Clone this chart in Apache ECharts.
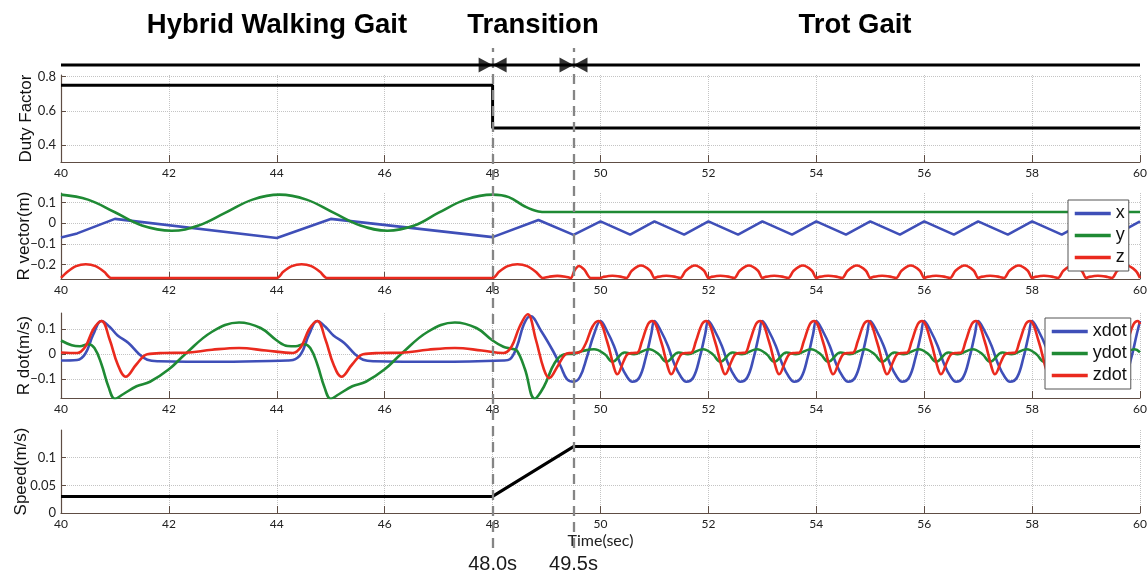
<!DOCTYPE html>
<html>
<head>
<meta charset="utf-8">
<script src="https://cdn.jsdelivr.net/npm/echarts@6/dist/echarts.min.js"></script>
<style>
html, body { margin: 0; padding: 0; background: #fff; }
#chart { width: 1147px; height: 576px; }
</style>
</head>
<body>
<div id="chart"></div>
<script>
// 数据
const phaseTitles = ['Hybrid Walking Gait', 'Transition', 'Trot Gait'];
const transitionTimes = [48, 49.5];
const transitionLabels = ['48.0s', '49.5s'];
const guideLevel = 0.966;

const dutyTicks = [0.4, 0.6, 0.8];
const rVecTicks = [-0.2, -0.1, 0, 0.1];
const rDotTicks = [-0.1, 0, 0.1];
const speedTicks = [0, 0.05, 0.1];

const dutyFactor = [[40, 0.75], [48, 0.75], [48, 0.5], [60, 0.5]];
const speed = [[40, 0.03], [48, 0.03], [49.5, 0.12], [60, 0.12]];

const rVecX = [[40, -0.07], [40.3, -0.05], [40.65, -0.015], [41, 0.02], [44, -0.072], [45, 0.02], [48, -0.068],
    [48.85, 0.015], [49.5, -0.057],
    [50, 0.008], [50.55, -0.056], [51, 0.008], [51.55, -0.056], [52, 0.008], [52.55, -0.056],
    [53, 0.008], [53.55, -0.056], [54, 0.008], [54.55, -0.056], [55, 0.008], [55.55, -0.056],
    [56, 0.008], [56.55, -0.056], [57, 0.008], [57.55, -0.056], [58, 0.008], [58.55, -0.056],
    [59, 0.008], [59.55, -0.056], [60, 0.008]];

const rVecY = [[40, 0.137], [40.5, 0.113], [41, 0.052], [41.5, -0.012], [42.05, -0.037], [42.55, -0.012],
    [43.05, 0.05], [43.55, 0.113], [44.05, 0.137], [44.55, 0.113], [45.05, 0.05], [45.55, -0.012],
    [46.05, -0.037], [46.55, -0.012], [47.0, 0.05], [47.5, 0.113], [48.0, 0.137], [48.3, 0.125],
    [48.6, 0.08], [48.85, 0.056], [49.0, 0.053], [49.3, 0.053], [60, 0.053]];

const rVecZ = [[40, -0.265], [40.12, -0.235], [40.28, -0.208], [40.46, -0.199], [40.64, -0.208], [40.8, -0.235], [40.93, -0.265],
    [44, -0.265], [44.12, -0.235], [44.28, -0.208], [44.46, -0.199], [44.64, -0.208], [44.8, -0.235], [44.93, -0.265],
    [48, -0.265], [48.12, -0.235], [48.28, -0.208], [48.46, -0.199], [48.64, -0.208], [48.8, -0.235], [48.93, -0.265],
    [49.05, -0.259], [49.2, -0.255], [49.35, -0.259], [49.45, -0.265], [49.52, -0.228], [49.6, -0.207], [49.7, -0.225], [49.82, -0.265],
    [50, -0.265], [50.05, -0.26], [50.22, -0.254], [50.4, -0.26], [50.48, -0.265], [50.58, -0.23], [50.75, -0.205], [50.92, -0.23],
    [51, -0.265], [51.05, -0.26], [51.22, -0.254], [51.4, -0.26], [51.48, -0.265], [51.58, -0.23], [51.75, -0.205], [51.92, -0.23],
    [52, -0.265], [52.05, -0.26], [52.22, -0.254], [52.4, -0.26], [52.48, -0.265], [52.58, -0.23], [52.75, -0.205], [52.92, -0.23],
    [53, -0.265], [53.05, -0.26], [53.22, -0.254], [53.4, -0.26], [53.48, -0.265], [53.58, -0.23], [53.75, -0.205], [53.92, -0.23],
    [54, -0.265], [54.05, -0.26], [54.22, -0.254], [54.4, -0.26], [54.48, -0.265], [54.58, -0.23], [54.75, -0.205], [54.92, -0.23],
    [55, -0.265], [55.05, -0.26], [55.22, -0.254], [55.4, -0.26], [55.48, -0.265], [55.58, -0.23], [55.75, -0.205], [55.92, -0.23],
    [56, -0.265], [56.05, -0.26], [56.22, -0.254], [56.4, -0.26], [56.48, -0.265], [56.58, -0.23], [56.75, -0.205], [56.92, -0.23],
    [57, -0.265], [57.05, -0.26], [57.22, -0.254], [57.4, -0.26], [57.48, -0.265], [57.58, -0.23], [57.75, -0.205], [57.92, -0.23],
    [58, -0.265], [58.05, -0.26], [58.22, -0.254], [58.4, -0.26], [58.48, -0.265], [58.58, -0.23], [58.75, -0.205], [58.92, -0.23],
    [59, -0.265], [59.05, -0.26], [59.22, -0.254], [59.4, -0.26], [59.48, -0.265], [59.58, -0.23], [59.75, -0.205], [59.92, -0.23],
    [60, -0.265]];

const rDotX = [[40, -0.025], [40.3, -0.023], [40.45, 0.002], [40.6, 0.08], [40.75, 0.133], [40.9, 0.11], [41.05, 0.075],
    [41.25, 0.045], [41.45, 0.0], [41.6, -0.022], [41.8, -0.028], [43, -0.03], [44.2, -0.025],
    [44.3, -0.023], [44.45, 0.002], [44.6, 0.08], [44.75, 0.133], [44.9, 0.11], [45.05, 0.075],
    [45.25, 0.045], [45.45, 0.0], [45.6, -0.022], [45.8, -0.028], [47, -0.03], [48.2, -0.025],
    [48.32, -0.02], [48.45, 0.03], [48.58, 0.12], [48.7, 0.153], [48.9, 0.093], [49.12, 0.013], [49.26, -0.047],
    [49.38, -0.1], [49.5, -0.11], [49.62, -0.09], [49.75, -0.01], [49.88, 0.08],
    [50, 0.133], [50.12, 0.093], [50.25, 0.033], [50.37, -0.04], [50.5, -0.093], [50.59, -0.11], [50.72, -0.093], [50.84, -0.013], [50.94, 0.08],
    [51, 0.133], [51.12, 0.093], [51.25, 0.033], [51.37, -0.04], [51.5, -0.093], [51.59, -0.11], [51.72, -0.093], [51.84, -0.013], [51.94, 0.08],
    [52, 0.133], [52.12, 0.093], [52.25, 0.033], [52.37, -0.04], [52.5, -0.093], [52.59, -0.11], [52.72, -0.093], [52.84, -0.013], [52.94, 0.08],
    [53, 0.133], [53.12, 0.093], [53.25, 0.033], [53.37, -0.04], [53.5, -0.093], [53.59, -0.11], [53.72, -0.093], [53.84, -0.013], [53.94, 0.08],
    [54, 0.133], [54.12, 0.093], [54.25, 0.033], [54.37, -0.04], [54.5, -0.093], [54.59, -0.11], [54.72, -0.093], [54.84, -0.013], [54.94, 0.08],
    [55, 0.133], [55.12, 0.093], [55.25, 0.033], [55.37, -0.04], [55.5, -0.093], [55.59, -0.11], [55.72, -0.093], [55.84, -0.013], [55.94, 0.08],
    [56, 0.133], [56.12, 0.093], [56.25, 0.033], [56.37, -0.04], [56.5, -0.093], [56.59, -0.11], [56.72, -0.093], [56.84, -0.013], [56.94, 0.08],
    [57, 0.133], [57.12, 0.093], [57.25, 0.033], [57.37, -0.04], [57.5, -0.093], [57.59, -0.11], [57.72, -0.093], [57.84, -0.013], [57.94, 0.08],
    [58, 0.133], [58.12, 0.093], [58.25, 0.033], [58.37, -0.04], [58.5, -0.093], [58.59, -0.11], [58.72, -0.093], [58.84, -0.013], [58.94, 0.08],
    [59, 0.133], [59.12, 0.093], [59.25, 0.033], [59.37, -0.04], [59.5, -0.093], [59.59, -0.11], [59.72, -0.093], [59.84, -0.013], [59.94, 0.08],
    [60, 0.133]];

const rDotY = [[40, 0.055], [40.2, 0.036], [40.35, 0.032], [40.5, 0.04], [40.62, 0.025], [40.75, -0.04], [40.88, -0.13],
    [41.0, -0.178], [41.15, -0.16], [41.4, -0.128], [41.65, -0.11], [42, -0.06], [42.3, 0.0], [42.8, 0.09],
    [43.3, 0.127], [43.7, 0.105], [44.0, 0.055], [44.2, 0.033], [44.35, 0.032], [44.5, 0.04], [44.62, 0.025],
    [44.75, -0.04], [44.88, -0.13], [45.0, -0.178], [45.15, -0.16], [45.4, -0.128], [45.65, -0.11], [46, -0.06],
    [46.3, 0.0], [46.8, 0.09], [47.3, 0.127], [47.7, 0.105], [48.0, 0.055], [48.2, 0.03], [48.35, 0.022],
    [48.45, 0.015], [48.6, -0.06], [48.78, -0.178], [48.95, -0.13], [49.15, -0.035], [49.33, 0.0], [49.5, 0.002],
    [49.65, 0.012], [49.88, 0.02],
    [50.08, 0.0], [50.22, -0.03], [50.45, 0.007], [50.62, 0.0], [50.9, 0.02],
    [51.08, 0.0], [51.22, -0.03], [51.45, 0.007], [51.62, 0.0], [51.9, 0.02],
    [52.08, 0.0], [52.22, -0.03], [52.45, 0.007], [52.62, 0.0], [52.9, 0.02],
    [53.08, 0.0], [53.22, -0.03], [53.45, 0.007], [53.62, 0.0], [53.9, 0.02],
    [54.08, 0.0], [54.22, -0.03], [54.45, 0.007], [54.62, 0.0], [54.9, 0.02],
    [55.08, 0.0], [55.22, -0.03], [55.45, 0.007], [55.62, 0.0], [55.9, 0.02],
    [56.08, 0.0], [56.22, -0.03], [56.45, 0.007], [56.62, 0.0], [56.9, 0.02],
    [57.08, 0.0], [57.22, -0.03], [57.45, 0.007], [57.62, 0.0], [57.9, 0.02],
    [58.08, 0.0], [58.22, -0.03], [58.45, 0.007], [58.62, 0.0], [58.9, 0.02],
    [59.08, 0.0], [59.22, -0.03], [59.45, 0.007], [59.62, 0.0], [59.9, 0.02],
    [60, 0.008]];

const rDotZ = [[40, 0.007], [40.3, 0.005], [40.45, 0.03], [40.6, 0.1], [40.75, 0.133], [40.9, 0.06], [41.05, -0.04],
    [41.2, -0.09], [41.4, -0.04], [41.6, 0.0], [41.9, 0.005], [42.3, 0.006], [42.8, 0.018], [43.3, 0.025],
    [43.8, 0.015], [44.3, 0.005], [44.45, 0.03], [44.6, 0.1], [44.75, 0.133], [44.9, 0.06], [45.05, -0.04],
    [45.2, -0.09], [45.4, -0.04], [45.6, 0.0], [45.9, 0.005], [46.3, 0.006], [46.8, 0.018], [47.3, 0.025],
    [47.8, 0.015], [48.2, 0.005], [48.35, 0.03], [48.5, 0.11], [48.65, 0.16], [48.8, 0.06], [48.95, -0.06],
    [49.05, -0.095], [49.2, -0.05], [49.35, 0.0], [49.45, 0.005], [49.6, 0.007], [49.72, 0.04], [49.85, 0.11],
    [49.96, 0.133], [50.12, 0.053], [50.25, -0.053], [50.31, -0.08], [50.43, -0.027], [50.5, 0.0], [50.6, 0.005], [50.68, 0.006], [50.77, 0.053], [50.88, 0.12],
    [50.96, 0.133], [51.12, 0.053], [51.25, -0.053], [51.31, -0.08], [51.43, -0.027], [51.5, 0.0], [51.6, 0.005], [51.68, 0.006], [51.77, 0.053], [51.88, 0.12],
    [51.96, 0.133], [52.12, 0.053], [52.25, -0.053], [52.31, -0.08], [52.43, -0.027], [52.5, 0.0], [52.6, 0.005], [52.68, 0.006], [52.77, 0.053], [52.88, 0.12],
    [52.96, 0.133], [53.12, 0.053], [53.25, -0.053], [53.31, -0.08], [53.43, -0.027], [53.5, 0.0], [53.6, 0.005], [53.68, 0.006], [53.77, 0.053], [53.88, 0.12],
    [53.96, 0.133], [54.12, 0.053], [54.25, -0.053], [54.31, -0.08], [54.43, -0.027], [54.5, 0.0], [54.6, 0.005], [54.68, 0.006], [54.77, 0.053], [54.88, 0.12],
    [54.96, 0.133], [55.12, 0.053], [55.25, -0.053], [55.31, -0.08], [55.43, -0.027], [55.5, 0.0], [55.6, 0.005], [55.68, 0.006], [55.77, 0.053], [55.88, 0.12],
    [55.96, 0.133], [56.12, 0.053], [56.25, -0.053], [56.31, -0.08], [56.43, -0.027], [56.5, 0.0], [56.6, 0.005], [56.68, 0.006], [56.77, 0.053], [56.88, 0.12],
    [56.96, 0.133], [57.12, 0.053], [57.25, -0.053], [57.31, -0.08], [57.43, -0.027], [57.5, 0.0], [57.6, 0.005], [57.68, 0.006], [57.77, 0.053], [57.88, 0.12],
    [57.96, 0.133], [58.12, 0.053], [58.25, -0.053], [58.31, -0.08], [58.43, -0.027], [58.5, 0.0], [58.6, 0.005], [58.68, 0.006], [58.77, 0.053], [58.88, 0.12],
    [58.96, 0.133], [59.12, 0.053], [59.25, -0.053], [59.31, -0.08], [59.43, -0.027], [59.5, 0.0], [59.6, 0.005], [59.68, 0.006], [59.77, 0.053], [59.88, 0.12],
    [59.96, 0.133], [60, 0.12]];

// 样式
const axisColor = '#5e4d44';
const gridLineColor = '#c4c4c4';
const blue = '#3f4fb8';
const green = '#1f8a34';
const red = '#ea2a1e';
const labelFont = 'Lato';
const nameFont = 'Liberation Sans';

const dom = document.getElementById('chart');
const myChart = echarts.init(dom);

function minusSign(v) {
    return String(v).replace('-', '\u2212');
}

function makeXAxis(gridIndex, extra) {
    return Object.assign({
        type: 'value',
        gridIndex: gridIndex,
        min: 40,
        max: 60,
        interval: 2,
        axisLine: { show: true, onZero: false, lineStyle: { color: axisColor, width: 1.2 } },
        axisTick: { show: true, inside: true, length: 7, lineStyle: { color: axisColor } },
        axisLabel: { color: '#222', fontSize: 12, fontFamily: labelFont, margin: 5 },
        splitLine: { show: true, lineStyle: { type: 'dotted', color: gridLineColor } }
    }, extra || {});
}

function makeYAxis(gridIndex, min, max, ticks, name, nameGap) {
    return {
        type: 'value',
        gridIndex: gridIndex,
        min: min,
        max: max,
        name: name,
        nameLocation: 'middle',
        nameRotate: 90,
        nameGap: nameGap,
        nameMoveOverlap: false,
        nameTextStyle: { fontSize: 17, fontFamily: nameFont, color: '#111' },
        axisLine: { show: true, onZero: false, lineStyle: { color: axisColor, width: 1.2 } },
        axisTick: { show: true, inside: true, length: 5, customValues: ticks, lineStyle: { color: axisColor } },
        axisLabel: {
            color: '#222', fontSize: 13, fontFamily: labelFont, margin: 5,
            customValues: ticks, formatter: minusSign
        },
        splitLine: { show: true, lineStyle: { type: 'dotted', color: gridLineColor } }
    };
}

function lineSeries(name, data, color, axisIndex, smooth, width) {
    return {
        name: name,
        type: 'line',
        xAxisIndex: axisIndex,
        yAxisIndex: axisIndex,
        data: data,
        symbol: 'none',
        smooth: smooth,
        lineStyle: { color: color, width: width || 2.6 },
        itemStyle: { color: color },
        animation: false
    };
}

const legendBase = {
    orient: 'vertical',
    backgroundColor: '#fff',
    borderColor: '#555',
    borderWidth: 1,
    borderRadius: 0,
    itemWidth: 36,
    itemHeight: 4,
    itemGap: 3,
    padding: [4, 4, 4, 5],
    itemStyle: { opacity: 0 },
    lineStyle: { width: 3.5 },
    textStyle: { fontSize: 18, fontFamily: nameFont, color: '#111', lineHeight: 19 },
    selectedMode: false
};

function panelGrid(top, height) {
    return { left: 61, right: 7, top: top, height: height, outerBoundsMode: 'none' };
}

const option = {
    backgroundColor: '#fff',
    animation: false,
    textStyle: { fontFamily: nameFont },
    grid: [
        panelGrid(75, 87),
        panelGrid(193, 86),
        panelGrid(313, 85),
        panelGrid(430, 83),
        { left: 61, right: 7, top: 48, bottom: 28, outerBoundsMode: 'none' }
    ],
    xAxis: [
        makeXAxis(0),
        makeXAxis(1),
        makeXAxis(2),
        makeXAxis(3, {
            name: 'Time(sec)',
            nameLocation: 'middle',
            nameGap: 20,
            nameTextStyle: { fontSize: 16, fontFamily: labelFont, color: '#222' }
        }),
        { type: 'value', gridIndex: 4, min: 40, max: 60, show: false }
    ],
    yAxis: [
        makeYAxis(0, 0.3, 0.81, dutyTicks, 'Duty Factor', 26),
        makeYAxis(1, -0.27, 0.145, rVecTicks, 'R vector(m)', 28),
        makeYAxis(2, -0.175, 0.165, rDotTicks, 'R dot(m/s)', 28),
        makeYAxis(3, 0, 0.15, speedTicks, 'Speed(m/s)', 31),
        { type: 'value', gridIndex: 4, min: 0, max: 1, show: false }
    ],
    legend: [
        Object.assign({ data: ['x', 'y', 'z'], left: 1068, top: 200 }, legendBase),
        Object.assign({ data: ['xdot', 'ydot', 'zdot'], left: 1045, top: 318 }, legendBase)
    ],
    graphic: [
        { type: 'text', x: 277, y: 11, style: { text: phaseTitles[0], align: 'center', verticalAlign: 'top', fontSize: 27.5, fontWeight: 'bold', fontFamily: nameFont, fill: '#000' } },
        { type: 'text', x: 533, y: 11, style: { text: phaseTitles[1], align: 'center', verticalAlign: 'top', fontSize: 27.5, fontWeight: 'bold', fontFamily: nameFont, fill: '#000' } },
        { type: 'text', x: 855, y: 11, style: { text: phaseTitles[2], align: 'center', verticalAlign: 'top', fontSize: 27.5, fontWeight: 'bold', fontFamily: nameFont, fill: '#000' } }
    ],
    series: [
        lineSeries('duty', dutyFactor, '#000', 0, false, 3),
        lineSeries('x', rVecX, blue, 1, false),
        lineSeries('y', rVecY, green, 1, 0.4),
        lineSeries('z', rVecZ, red, 1, 0.3),
        lineSeries('xdot', rDotX, blue, 2, 0.4),
        lineSeries('ydot', rDotY, green, 2, 0.4),
        lineSeries('zdot', rDotZ, red, 2, 0.4),
        lineSeries('speed', speed, '#000', 3, false, 3),
        {
            name: 'guide',
            type: 'line',
            xAxisIndex: 4,
            yAxisIndex: 4,
            data: [[40, guideLevel], [60, guideLevel]],
            symbol: 'none',
            z: 5,
            lineStyle: { color: '#000', width: 3 },
            markLine: {
                symbol: ['none', 'none'],
                silent: true,
                lineStyle: { type: [10, 6], color: '#858585', width: 2.3 },
                label: {
                    show: true,
                    position: 'start',
                    distance: 6,
                    fontSize: 20,
                    fontFamily: nameFont,
                    color: '#1a1a1a',
                    formatter: function (p) { return transitionLabels[p.dataIndex]; }
                },
                data: transitionTimes.map(t => ({ xAxis: t }))
            }
        },
        {
            name: 'arrows',
            type: 'scatter',
            xAxisIndex: 4,
            yAxisIndex: 4,
            z: 6,
            symbol: 'triangle',
            symbolSize: [15, 14],
            itemStyle: { color: '#000' },
            data: transitionTimes.flatMap(t => [
                { value: [t, guideLevel], symbolRotate: -90, symbolOffset: [-7, 0] },
                { value: [t, guideLevel], symbolRotate: 90, symbolOffset: [7, 0] }
            ])
        }
    ]
};

myChart.setOption(option);
</script>
</body>
</html>
